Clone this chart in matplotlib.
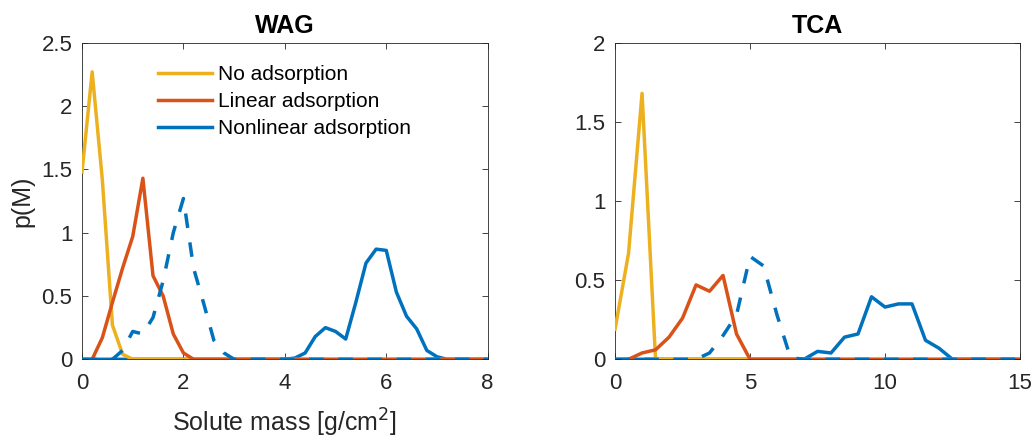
import numpy as np
import matplotlib
matplotlib.use("Agg")
import matplotlib.pyplot as plt

plt.rcParams['font.family'] = ['Liberation Sans', 'DejaVu Sans']

nan = np.nan

# ---------------- WAG (bins every 0.2 from 0 to 8) ----------------
wag_x = [0.0, 0.2, 0.4, 0.6, 0.8, 1.0, 1.2, 1.4, 1.6, 1.8,
         2.0, 2.2, 2.4, 2.6, 2.8, 3.0, 3.2, 3.4, 3.6, 3.8,
         4.0, 4.2, 4.4, 4.6, 4.8, 5.0, 5.2, 5.4, 5.6, 5.8,
         6.0, 6.2, 6.4, 6.6, 6.8, 7.0, 7.2, 7.4, 7.6, 7.8, 8.0]
wag_none = [1.48, 2.27, 1.42, 0.27, 0.04, 0, 0, 0, 0, 0,
            0, 0, 0, 0, 0, 0, 0, 0, 0, 0,
            0, 0, 0, 0, 0, 0, 0, 0, 0, 0,
            0, 0, 0, 0, 0, 0, 0, 0, 0, 0, 0]
wag_linear = [nan, 0, 0.17, 0.45, 0.72, 0.97, 1.43, 0.66, 0.50, 0.20,
              0.05, 0, 0, 0, 0, 0, 0, 0, 0, 0,
              0, 0, 0, 0, 0, 0, 0, 0, 0, 0,
              0, 0, 0, 0, 0, 0, 0, 0, 0, 0, 0]
wag_nonlin = [0, 0, 0, 0, 0, 0, 0, 0, 0, 0,
              0, 0, 0, 0, 0, 0, 0, 0, 0, 0,
              0, 0.01, 0.05, 0.18, 0.25, 0.22, 0.16, 0.45, 0.76, 0.87,
              0.86, 0.53, 0.34, 0.24, 0.07, 0.02, 0, 0, 0, 0, 0]
wag_nonlin_dash = [0, 0, 0, 0, 0.07, 0.22, 0.20, 0.33, 0.62, 1.00,
                   1.27, 0.72, 0.44, 0.15, 0.05, 0, 0, 0, 0, 0,
                   0, 0, 0, 0, 0, 0, 0, 0, 0, 0,
                   0, 0, 0, 0, 0, 0, 0, 0, 0, 0, 0]

# ---------------- TCA (bins every 0.5 from 0 to 15) ----------------
tca_x = [0.0, 0.5, 1.0, 1.5, 2.0, 2.5, 3.0, 3.5, 4.0, 4.5,
         5.0, 5.5, 6.0, 6.5, 7.0, 7.5, 8.0, 8.5, 9.0, 9.5,
         10.0, 10.5, 11.0, 11.5, 12.0, 12.5, 13.0, 13.5, 14.0, 14.5, 15.0]
tca_none = [0.19, 0.67, 1.68, 0, 0, 0, 0, 0, 0, 0,
            0, 0, 0, 0, 0, 0, 0, 0, 0, 0,
            0, 0, 0, 0, 0, 0, 0, 0, 0, 0, 0]
tca_linear = [nan, 0, 0.04, 0.06, 0.14, 0.26, 0.47, 0.43, 0.53, 0.16,
              0, 0, 0, 0, 0, 0, 0, 0, 0, 0,
              0, 0, 0, 0, 0, 0, 0, 0, 0, 0, 0]
tca_nonlin = [0, 0, 0, 0, 0, 0, 0, 0, 0, 0,
              0, 0, 0, 0, 0, 0.05, 0.04, 0.14, 0.16, 0.395,
              0.33, 0.35, 0.35, 0.12, 0.07, 0, 0, 0, 0, 0, 0]
tca_nonlin_dash = [0, 0, 0, 0, 0, 0, 0, 0.04, 0.15, 0.28,
                   0.65, 0.59, 0.28, 0.01, 0, 0, 0, 0, 0, 0,
                   0, 0, 0, 0, 0, 0, 0, 0, 0, 0, 0]

labels = ["No adsorption", "Linear adsorption", "Nonlinear adsorption"]
C_YEL = "#EDB120"
C_ORA = "#D95319"
C_BLU = "#0072BD"
GRAY = "#262626"

LW = 2.5
FS_TICK = 16
FS_LEG = 15
FS_LAB = 18
FS_TITLE = 18

fig = plt.figure(figsize=(10.33, 4.40), dpi=100)
ax1 = fig.add_axes([0.0794, 0.1834, 0.3927, 0.7195])
ax2 = fig.add_axes([0.5954, 0.1834, 0.3920, 0.7195])


def draw(ax, x, none, lin, nl, nld):
    hb, = ax.plot(x, nl, color=C_BLU, lw=LW, zorder=2)
    hy, = ax.plot(x, none, color=C_YEL, lw=LW, zorder=3)
    ho, = ax.plot(x, lin, color=C_ORA, lw=LW, zorder=4)
    ax.plot(x, nld, color=C_BLU, lw=LW, ls=(0, (4.2, 4.2)), zorder=5)
    return hy, ho, hb


def style(ax):
    ax.tick_params(direction='in', top=True, right=True, length=4,
                   width=0.6, colors=GRAY, labelsize=FS_TICK)
    ax.tick_params(axis='x', pad=10)
    ax.tick_params(axis='y', pad=7)
    for s in ax.spines.values():
        s.set_color(GRAY)
        s.set_linewidth(0.6)


handles = draw(ax1, wag_x, wag_none, wag_linear, wag_nonlin, wag_nonlin_dash)
draw(ax2, tca_x, tca_none, tca_linear, tca_nonlin, tca_nonlin_dash)

ax1.set_xlim(0, 8)
ax1.set_ylim(0, 2.5)
ax1.set_xticks([0, 2, 4, 6, 8])
ax1.set_yticks([0, 0.5, 1, 1.5, 2, 2.5])
ax1.set_yticklabels(["0", "0.5", "1", "1.5", "2", "2.5"])
ax1.set_title("WAG", fontsize=FS_TITLE, fontweight='bold', pad=7)
ax1.set_xlabel("Solute mass [g/cm$^2$]", fontsize=FS_LAB, color=GRAY, labelpad=9)
ax1.set_ylabel("p(M)", fontsize=FS_LAB, color=GRAY, labelpad=5)

ax2.set_xlim(0, 15)
ax2.set_ylim(0, 2)
ax2.set_xticks([0, 5, 10, 15])
ax2.set_yticks([0, 0.5, 1, 1.5, 2])
ax2.set_yticklabels(["0", "0.5", "1", "1.5", "2"])
ax2.set_title("TCA", fontsize=FS_TITLE, fontweight='bold', pad=7)

style(ax1)
style(ax2)

leg = ax1.legend(handles, labels, loc='upper left', bbox_to_anchor=(0.187, 0.929),
                 frameon=False, fontsize=FS_LEG, handlelength=2.6, handletextpad=0.3,
                 labelspacing=0.39, borderaxespad=0, borderpad=0)
for t in leg.get_texts():
    t.set_color('black')

fig.savefig("out.png", dpi=100)
